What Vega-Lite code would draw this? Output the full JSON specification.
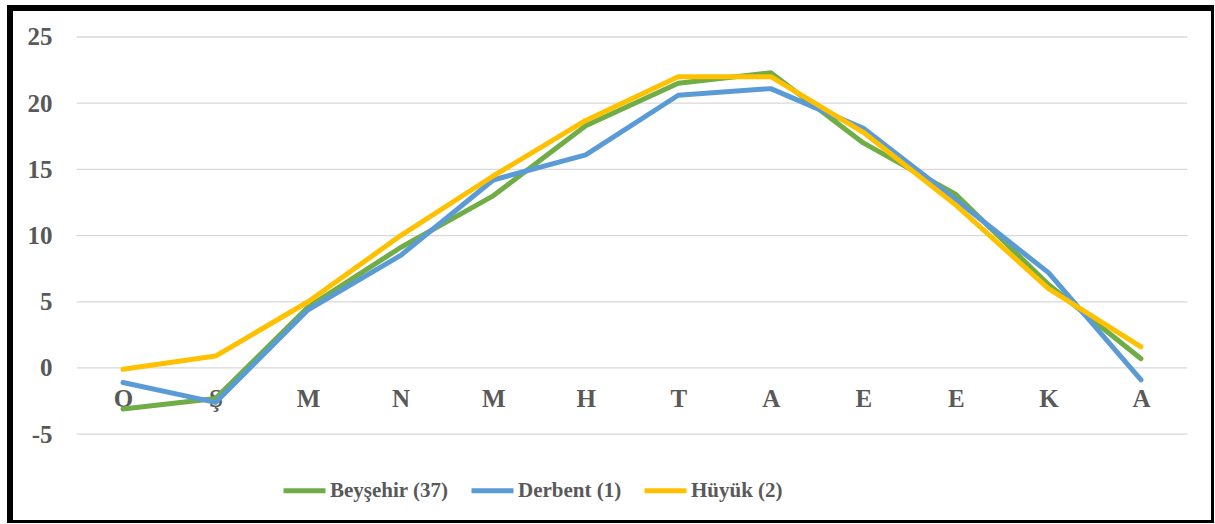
{
  "$schema": "https://vega.github.io/schema/vega-lite/v6.json",
  "width": 1204,
  "height": 515,
  "autosize": {"type": "none"},
  "padding": {"left": 10, "top": 8, "right": 0, "bottom": 0},
  "background": "white",
  "config": {"view": {"stroke": "#000000", "strokeWidth": 6}},
  "datasets": {
    "temps": [
      {"month": 1, "station": "Beyşehir (37)", "temp": -3.1},
      {"month": 2, "station": "Beyşehir (37)", "temp": -2.3},
      {"month": 3, "station": "Beyşehir (37)", "temp": 4.6},
      {"month": 4, "station": "Beyşehir (37)", "temp": 9.1},
      {"month": 5, "station": "Beyşehir (37)", "temp": 13.0},
      {"month": 6, "station": "Beyşehir (37)", "temp": 18.3},
      {"month": 7, "station": "Beyşehir (37)", "temp": 21.5},
      {"month": 8, "station": "Beyşehir (37)", "temp": 22.3},
      {"month": 9, "station": "Beyşehir (37)", "temp": 17.0},
      {"month": 10, "station": "Beyşehir (37)", "temp": 13.1},
      {"month": 11, "station": "Beyşehir (37)", "temp": 6.3},
      {"month": 12, "station": "Beyşehir (37)", "temp": 0.7},
      {"month": 1, "station": "Derbent (1)", "temp": -1.1},
      {"month": 2, "station": "Derbent (1)", "temp": -2.6},
      {"month": 3, "station": "Derbent (1)", "temp": 4.4},
      {"month": 4, "station": "Derbent (1)", "temp": 8.5},
      {"month": 5, "station": "Derbent (1)", "temp": 14.2},
      {"month": 6, "station": "Derbent (1)", "temp": 16.1},
      {"month": 7, "station": "Derbent (1)", "temp": 20.6},
      {"month": 8, "station": "Derbent (1)", "temp": 21.1},
      {"month": 9, "station": "Derbent (1)", "temp": 18.1},
      {"month": 10, "station": "Derbent (1)", "temp": 12.7},
      {"month": 11, "station": "Derbent (1)", "temp": 7.2},
      {"month": 12, "station": "Derbent (1)", "temp": -0.9},
      {"month": 1, "station": "Hüyük (2)", "temp": -0.1},
      {"month": 2, "station": "Hüyük (2)", "temp": 0.9},
      {"month": 3, "station": "Hüyük (2)", "temp": 5.0},
      {"month": 4, "station": "Hüyük (2)", "temp": 10.0},
      {"month": 5, "station": "Hüyük (2)", "temp": 14.5},
      {"month": 6, "station": "Hüyük (2)", "temp": 18.7},
      {"month": 7, "station": "Hüyük (2)", "temp": 22.0},
      {"month": 8, "station": "Hüyük (2)", "temp": 22.0},
      {"month": 9, "station": "Hüyük (2)", "temp": 17.8},
      {"month": 10, "station": "Hüyük (2)", "temp": 12.3},
      {"month": 11, "station": "Hüyük (2)", "temp": 6.0},
      {"month": 12, "station": "Hüyük (2)", "temp": 1.6}
    ],
    "grid": [{"v": -5}, {"v": 0}, {"v": 5}, {"v": 10}, {"v": 15}, {"v": 20}, {"v": 25}]
  },
  "layer": [
    {
      "data": {"name": "grid"},
      "mark": {"type": "rule", "color": "#D9D9D9", "strokeWidth": 1.3},
      "encoding": {
        "x": {"datum": 0.5, "type": "quantitative",
          "scale": {"domain": [-0.221, 12.789], "nice": false, "zero": false},
          "axis": {"values": [1,2,3,4,5,6,7,8,9,10,11,12], "labelExpr": "['O','Ş','M','N','M','H','T','A','E','E','K','A'][datum.value-1]", "grid": false, "domain": false, "ticks": false, "offset": -155, "labelPadding": 18, "labelAngle": 0, "labelFlush": false, "labelOverlap": false, "labelFont": "Liberation Serif", "labelFontWeight": "bold", "labelFontSize": 25, "labelColor": "#595959", "title": null}},
        "x2": {"datum": 12.5},
        "y": {"field": "v", "type": "quantitative",
          "scale": {"domain": [-11.71, 27.19], "nice": false, "zero": false},
          "axis": {"values": [-5,0,5,10,15,20,25], "labelExpr": "'' + datum.value", "grid": false, "domain": false, "ticks": false, "offset": -67, "labelPadding": 25, "labelFont": "Liberation Serif", "labelFontWeight": "bold", "labelFontSize": 25, "labelColor": "#595959", "title": null}}
      }
    },
    {
      "data": {"name": "temps"},
      "mark": {"type": "line", "strokeWidth": 5, "strokeCap": "round", "strokeJoin": "round"},
      "encoding": {
        "x": {"field": "month", "type": "quantitative",
          "scale": {"domain": [-0.221, 12.789], "nice": false, "zero": false},
          "axis": {"values": [1,2,3,4,5,6,7,8,9,10,11,12], "labelExpr": "['O','Ş','M','N','M','H','T','A','E','E','K','A'][datum.value-1]", "grid": false, "domain": false, "ticks": false, "offset": -155, "labelPadding": 18, "labelAngle": 0, "labelFlush": false, "labelOverlap": false, "labelFont": "Liberation Serif", "labelFontWeight": "bold", "labelFontSize": 25, "labelColor": "#595959", "title": null}},
        "y": {"field": "temp", "type": "quantitative",
          "scale": {"domain": [-11.71, 27.19], "nice": false, "zero": false},
          "axis": {"values": [-5,0,5,10,15,20,25], "labelExpr": "'' + datum.value", "grid": false, "domain": false, "ticks": false, "offset": -67, "labelPadding": 25, "labelFont": "Liberation Serif", "labelFontWeight": "bold", "labelFontSize": 25, "labelColor": "#595959", "title": null}},
        "color": {"field": "station", "type": "nominal",
          "scale": {"domain": ["Beyşehir (37)", "Derbent (1)", "Hüyük (2)"], "range": ["#70AD47", "#5B9BD5", "#FFC000"]},
          "legend": {"orient": "none", "direction": "horizontal", "columns": 3, "legendX": 271, "legendY": 459, "title": null, "symbolType": "stroke", "symbolSize": 1764, "symbolStrokeWidth": 5, "labelOffset": 2, "columnPadding": 12, "labelFont": "Liberation Serif", "labelFontWeight": "bold", "labelFontSize": 21, "labelColor": "#595959", "labelLimit": 300}
        }
      }
    }
  ]
}
